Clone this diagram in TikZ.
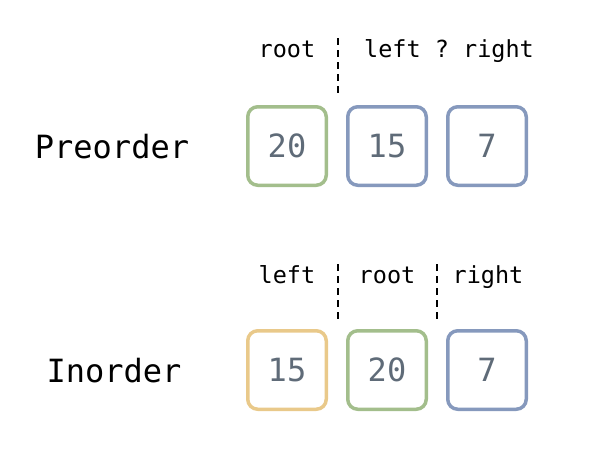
\documentclass[tikz,border=0pt]{standalone}
\usepackage{fontspec}
\setmonofont{DejaVu Sans Mono}
\definecolor{cgreen}{HTML}{A3BE8C}
\definecolor{cblue}{HTML}{8699BD}
\definecolor{cyellow}{HTML}{E9C98A}
\definecolor{cnum}{HTML}{5F6B78}
\tikzset{
  cell/.style={draw=#1, line width=3.5pt, rounded corners=10pt, minimum size=78.5pt, inner sep=0pt, text=cnum, font=\ttfamily\fontsize{32}{36}\selectfont},
  lbl/.style={anchor=base, inner sep=0pt, font=\ttfamily\fontsize{23.5}{28}\selectfont},
  title/.style={anchor=base, inner sep=0pt, font=\ttfamily\fontsize{32}{36}\selectfont},
  sep/.style={dashed, line width=1.3pt, dash pattern=on 7pt off 5pt}
}
\begin{document}
\begin{tikzpicture}[x=1pt,y=-1pt]
\useasboundingbox (0,0) rectangle (608,456);
% Preorder row
\node[title] (pre) at (112,158) {Preorder};
\node[cell=cgreen] (p1) at (287,146) {20};
\node[cell=cblue] (p2) at (387,146) {15};
\node[cell=cblue] (p3) at (487,146) {7};
\node[lbl] (proot) at (287,57) {root};
\node[lbl] (plr) at (449,57) {left ? right};
\coordinate (pa) at (338,38);
\coordinate (pb) at (338,96);
\draw[sep] (pa) -- (pb);
% Inorder row
\node[title] (ino) at (114,382) {Inorder};
\node[cell=cyellow] (i1) at (287,370) {15};
\node[cell=cgreen] (i2) at (387,370) {20};
\node[cell=cblue] (i3) at (487,370) {7};
\node[lbl] (ileft) at (287,283) {left};
\node[lbl] (iroot) at (387,283) {root};
\node[lbl] (iright) at (488,283) {right};
\coordinate (ia) at (338,264);
\coordinate (ib) at (338,321);
\coordinate (ic) at (437,264);
\coordinate (id) at (437,321);
\draw[sep] (ia) -- (ib);
\draw[sep] (ic) -- (id);
\end{tikzpicture}
\end{document}
